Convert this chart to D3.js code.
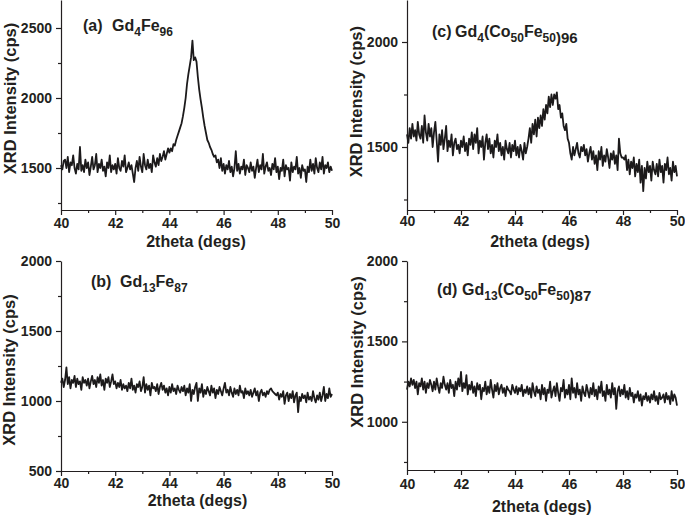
<!DOCTYPE html>
<html><head><meta charset="utf-8">
<script src="https://cdn.jsdelivr.net/npm/d3@7"></script>
<style>
html,body{margin:0;padding:0;background:#fff;}
svg{display:block;}
text{font-family:Arial,"Liberation Sans",sans-serif;font-weight:bold;fill:#231f20;}
</style></head><body>
<svg id="chart" width="685" height="517"></svg>
<script>
// scan angles (2theta, degrees)
const twoTheta = [
40,40.05,40.1,40.15,40.2,40.25,40.3,40.35,40.4,40.45,40.5,40.55,40.6,40.65,40.7,40.75,40.8,40.85,40.9,40.95,
41,41.05,41.1,41.15,41.2,41.25,41.3,41.35,41.4,41.45,41.5,41.55,41.6,41.65,41.7,41.75,41.8,41.85,41.9,41.95,
42,42.05,42.1,42.15,42.2,42.25,42.3,42.35,42.4,42.45,42.5,42.55,42.6,42.65,42.7,42.75,42.8,42.85,42.9,42.95,
43,43.05,43.1,43.15,43.2,43.25,43.3,43.35,43.4,43.45,43.5,43.55,43.6,43.65,43.7,43.75,43.8,43.85,43.9,43.95,
44,44.05,44.1,44.15,44.2,44.25,44.3,44.35,44.4,44.45,44.5,44.55,44.6,44.65,44.7,44.75,44.8,44.85,44.9,44.95,
45,45.05,45.1,45.15,45.2,45.25,45.3,45.35,45.4,45.45,45.5,45.55,45.6,45.65,45.7,45.75,45.8,45.85,45.9,45.95,
46,46.05,46.1,46.15,46.2,46.25,46.3,46.35,46.4,46.45,46.5,46.55,46.6,46.65,46.7,46.75,46.8,46.85,46.9,46.95,
47,47.05,47.1,47.15,47.2,47.25,47.3,47.35,47.4,47.45,47.5,47.55,47.6,47.65,47.7,47.75,47.8,47.85,47.9,47.95,
48,48.05,48.1,48.15,48.2,48.25,48.3,48.35,48.4,48.45,48.5,48.55,48.6,48.65,48.7,48.75,48.8,48.85,48.9,48.95,
49,49.05,49.1,49.15,49.2,49.25,49.3,49.35,49.4,49.45,49.5,49.55,49.6,49.65,49.7,49.75,49.8,49.85,49.9,49.95,
50];

// (a) Gd4Fe96
const intensityA = [
1520,1490,1550,1560,1500,1580,1470,1540,1520,1590,
1500,1460,1530,1490,1650,1480,1520,1470,1560,1500,
1540,1450,1510,1580,1490,1520,1600,1470,1530,1500,
1560,1480,1510,1440,1540,1500,1590,1470,1520,1490,
1530,1460,1570,1500,1480,1550,1510,1590,1470,1500,
1540,1490,1520,1460,1400,1500,1550,1480,1580,1510,
1470,1600,1520,1490,1560,1500,1530,1470,1590,1540,
1510,1570,1520,1600,1550,1580,1620,1560,1600,1640,
1610,1640,1620,1670,1660,1700,1730,1760,1790,1820,
1870,1930,2000,2100,2170,2230,2290,2410,2270,2290,
2260,2150,2060,1990,1930,1860,1800,1750,1700,1680,
1650,1630,1600,1580,1590,1540,1560,1500,1570,1480,
1530,1460,1520,1490,1550,1470,1510,1440,1500,1620,
1480,1530,1460,1510,1490,1560,1450,1520,1500,1470,
1540,1480,1510,1430,1500,1560,1470,1520,1490,1600,
1460,1510,1540,1480,1500,1450,1530,1490,1570,1470,
1510,1420,1500,1480,1560,1440,1520,1490,1500,1410,
1540,1470,1510,1490,1580,1460,1500,1430,1520,1480,
1490,1400,1510,1470,1560,1480,1530,1460,1570,1500,
1470,1540,1490,1580,1460,1520,1500,1540,1470,1510,
1480];

// (b) Gd13Fe87
const intensityB = [
1130,1160,1100,1150,1240,1120,1170,1090,1150,1130,
1180,1100,1160,1120,1140,1080,1170,1130,1150,1110,
1160,1090,1140,1180,1120,1150,1100,1170,1130,1190,
1110,1150,1080,1160,1130,1170,1100,1140,1190,1120,
1140,1090,1130,1100,1150,1080,1120,1090,1110,1070,
1130,1090,1160,1080,1110,1060,1120,1100,1140,1070,
1100,1170,1060,1120,1080,1110,1040,1130,1090,1100,
1070,1120,1050,1100,1130,1080,1110,1060,1090,1040,
1100,1060,1120,1070,1090,1050,1110,1080,1060,1100,
1070,1110,1040,1090,1060,1120,1000,1080,1050,1100,
1130,1000,1090,1060,1120,1030,1080,1050,1100,1070,
1040,1110,1060,1090,1020,1080,1050,1100,1070,1040,
1090,1130,1060,1080,1040,1100,1060,1030,1090,1050,
1080,1040,1110,1060,1070,1020,1090,1050,1070,1040,
1080,1030,1060,1090,1040,1070,1000,1060,1080,1040,
1060,1030,1070,1050,1080,1090,1070,1060,1050,1040,
1060,1010,1050,1030,1070,980,1040,1060,1000,1050,
1020,1070,990,1040,1060,920,1030,1000,1050,1020,
1040,990,1060,1010,1030,1000,1070,1020,990,1040,
1010,1060,1000,1040,1100,1000,1050,1020,1090,1030,
1050];

// (c) Gd4(Co50Fe50)96
const intensityC = [
1560,1520,1590,1540,1610,1550,1580,1530,1620,1560,
1540,1600,1520,1650,1570,1530,1610,1550,1590,1500,
1570,1620,1530,1430,1560,1510,1580,1490,1540,1600,
1480,1530,1500,1560,1460,1520,1540,1490,1510,1470,
1530,1500,1550,1480,1520,1460,1540,1510,1570,1490,
1560,1520,1590,1470,1530,1500,1550,1440,1520,1560,
1490,1540,1470,1510,1450,1530,1500,1560,1480,1520,
1460,1500,1440,1530,1490,1470,1520,1450,1510,1480,
1530,1460,1500,1450,1510,1480,1440,1520,1470,1500,
1540,1590,1520,1610,1560,1630,1550,1640,1590,1650,
1600,1680,1630,1700,1660,1740,1690,1750,1700,1750,
1730,1760,1680,1700,1640,1660,1600,1580,1610,1540,
1520,1470,1440,1500,1460,1490,1520,1470,1450,1500,
1480,1510,1460,1490,1430,1470,1500,1440,1480,1420,
1460,1390,1480,1440,1500,1410,1460,1430,1490,1450,
1400,1470,1440,1480,1420,1460,1390,1540,1470,1450,
1450,1440,1460,1390,1440,1370,1430,1400,1450,1360,
1420,1380,1440,1330,1410,1290,1400,1350,1430,1380,
1410,1340,1430,1390,1370,1420,1360,1440,1380,1410,
1330,1420,1390,1450,1370,1400,1340,1430,1380,1410,
1360];

// (d) Gd13(Co50Fe50)87
const intensityD = [
1200,1250,1220,1270,1230,1260,1210,1250,1170,1240,
1220,1270,1200,1250,1180,1240,1210,1260,1230,1190,
1250,1200,1270,1220,1180,1240,1210,1280,1230,1200,
1240,1180,1260,1210,1230,1160,1250,1200,1270,1220,
1310,1190,1240,1210,1290,1170,1230,1200,1250,1180,
1220,1160,1240,1200,1230,1140,1210,1190,1250,1170,
1220,1180,1260,1200,1150,1230,1190,1240,1170,1210,
1230,1180,1210,1160,1220,1200,1190,1170,1230,1200,
1180,1220,1170,1210,1190,1230,1160,1200,1180,1220,
1170,1210,1150,1240,1190,1160,1220,1180,1200,1140,
1230,1170,1210,1130,1200,1180,1250,1150,1190,1220,
1160,1240,1180,1130,1210,1190,1260,1150,1200,1170,
1230,1140,1270,1180,1210,1150,1240,1170,1200,1130,
1220,1180,1160,1230,1190,1150,1210,1170,1240,1160,
1200,1140,1220,1180,1250,1160,1190,1130,1230,1170,
1200,1150,1240,1170,1210,1080,1190,1220,1160,1200,
1170,1230,1150,1190,1140,1210,1160,1180,1120,1170,
1150,1190,1130,1170,1100,1160,1140,1180,1130,1160,
1120,1170,1140,1190,1130,1160,1110,1180,1140,1150,
1170,1120,1180,1140,1160,1110,1190,1130,1170,1150,
1100];

const xTicks = [40,42,44,46,48,50];
const xMinorTicks = [41,43,45,47,49];
const yTicksA = [1500,2000,2500], yMinorTicksA = [1250,1750,2250];
const yTicksB = [500,1000,1500,2000], yMinorTicksB = [750,1250,1750];
const yTicksC = [1500,2000], yMinorTicksC = [1250,1750];
const yTicksD = [1000,1500,2000], yMinorTicksD = [750,1250,1750];
const xTitle = "2theta (degs)";
const yTitle = "XRD Intensity (cps)";
const panelTags = ["(a)","(b)","(c)","(d)"];
// formula pieces: [text, kind] kind 0 normal, 1 subscript, 2 lowered normal
const formulaA = [["Gd",0],["4",1],["Fe",0],["96",1]];
const formulaB = [["Gd",0],["13",1],["Fe",0],["87",1]];
const formulaC = [["Gd",0],["4",1],["(Co",0],["50",1],["Fe",0],["50",1],[")96",2]];
const formulaD = [["Gd",0],["13",1],["(Co",0],["50",1],["Fe",0],["50",1],[")87",2]];

const panels = [
  {y:intensityA, tag:panelTags[0], formula:formulaA, dom:[1200,2700], yt:yTicksA, ym:yMinorTicksA,
   x0:61, x1:332, yTop:0, yBot:210, tagX:83, fX:112, fY:31, xtX:196, xtY:247, ytX:15.5, ytY:98.5, xPad:3},
  {y:intensityB, tag:panelTags[1], formula:formulaB, dom:[500,2000], yt:yTicksB, ym:yMinorTicksB,
   x0:61, x1:332, yTop:261, yBot:471, tagX:91, fX:120, fY:287, xtX:197.5, xtY:505.5, ytX:15, ytY:370, xPad:2},
  {y:intensityC, tag:panelTags[2], formula:formulaC, dom:[1200,2200], yt:yTicksC, ym:yMinorTicksC,
   x0:407, x1:677, yTop:0, yBot:210, tagX:432, fX:455, fY:37, xtX:540, xtY:247, ytX:361.5, ytY:101.7, xPad:1},
  {y:intensityD, tag:panelTags[3], formula:formulaD, dom:[700,2000], yt:yTicksD, ym:yMinorTicksD,
   x0:407, x1:677, yTop:261, yBot:470, tagX:437, fX:462, fY:295, xtX:541.7, xtY:511.5, ytX:363, ytY:352, xPad:4}
];

const svg = d3.select("#chart");
const ink = "#231f20";

panels.forEach(p => {
  const x = d3.scaleLinear().domain([40,50]).range([p.x0, p.x1]);
  const y = d3.scaleLinear().domain(p.dom).range([p.yBot, p.yTop]);
  const g = svg.append("g");

  // minor ticks
  g.append("g").attr("transform",`translate(0,${p.yBot})`)
    .call(d3.axisBottom(x).tickValues(xMinorTicks).tickSize(3).tickSizeOuter(0).tickFormat(""))
    .call(s => s.select(".domain").remove());
  g.append("g").attr("transform",`translate(${p.x0},0)`)
    .call(d3.axisLeft(y).tickValues(p.ym).tickSize(3).tickSizeOuter(0).tickFormat(""))
    .call(s => s.select(".domain").remove());

  const gx = g.append("g").attr("transform",`translate(0,${p.yBot})`)
    .call(d3.axisBottom(x).tickValues(xTicks).tickSize(5).tickSizeOuter(0).tickPadding(p.xPad).tickFormat(d3.format("d")));
  const gy = g.append("g").attr("transform",`translate(${p.x0},0)`)
    .call(d3.axisLeft(y).tickValues(p.yt).tickSize(5).tickSizeOuter(0).tickPadding(4).tickFormat(d3.format("d")));
  [gx,gy].forEach(a => {
    a.selectAll("path,line").attr("stroke", ink).attr("stroke-width",1.2);
    a.selectAll("text").style("font-size","14px").style("font-weight","bold")
      .style("font-family","Arial, 'Liberation Sans', sans-serif").attr("fill", ink);
  });
  g.selectAll("line").attr("stroke", ink).attr("stroke-width",1.2);

  // data line
  const line = d3.line().x((d,i) => x(twoTheta[i])).y(d => y(d));
  g.append("path").datum(p.y).attr("d", line)
    .attr("fill","none").attr("stroke","#1c1a1b").attr("stroke-width",1.8).attr("stroke-linejoin","round");

  // axis titles
  g.append("text").attr("x",p.xtX).attr("y",p.xtY).attr("text-anchor","middle")
    .style("font-size","16px").text(xTitle);
  g.append("text").attr("transform",`translate(${p.ytX},${p.ytY}) rotate(-90)`)
    .attr("text-anchor","middle").style("font-size","16.5px").text(yTitle);

  // panel label
  g.append("text").attr("x",p.tagX).attr("y",p.fY).style("font-size","16px").text(p.tag);
  const t = g.append("text").attr("x",p.fX).attr("y",p.fY).style("font-size","16px");
  let off = 0;
  p.formula.forEach(([s,k]) => {
    const target = k===1 ? 5 : (k===2 ? 6 : 0);
    t.append("tspan").attr("dy", target-off)
      .style("font-size", k===1 ? "12px" : (k===2 ? "15px" : "16px")).text(s);
    off = target;
  });
});
</script>
</body></html>
